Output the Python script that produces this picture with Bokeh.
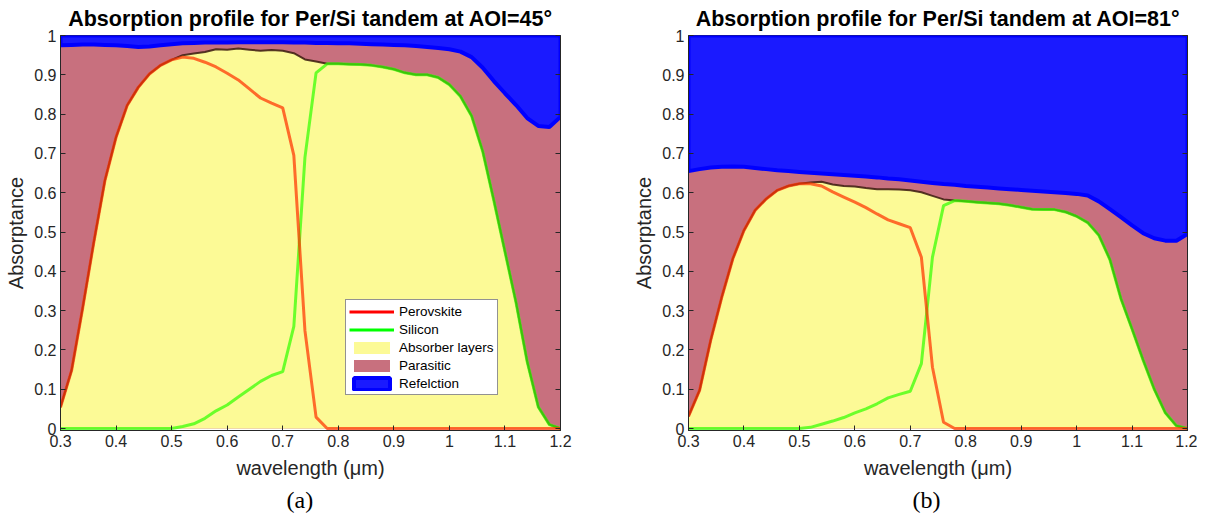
import numpy as np
from bokeh.plotting import figure
from bokeh.layouts import row
from bokeh.models import FixedTicker, LinearAxis, Legend, LegendItem, Title, Range1d
from bokeh.embed import file_html
from bokeh.resources import INLINE

# ---------------- data ----------------
wavelength = [0.30, 0.32, 0.34, 0.36, 0.38, 0.40, 0.42, 0.44, 0.46, 0.48,
              0.50, 0.52, 0.54, 0.56, 0.58, 0.60, 0.62, 0.64, 0.66, 0.68,
              0.70, 0.72, 0.74, 0.76, 0.78, 0.80, 0.82, 0.84, 0.86, 0.88,
              0.90, 0.92, 0.94, 0.96, 0.98, 1.00, 1.02, 1.04, 1.06, 1.08,
              1.10, 1.12, 1.14, 1.16, 1.18, 1.20]

# AOI = 45 deg
perovskite_45 = [0.054, 0.148, 0.307, 0.474, 0.631, 0.741, 0.822, 0.868, 0.902, 0.924,
                 0.938, 0.945, 0.942, 0.932, 0.920, 0.904, 0.887, 0.864, 0.841, 0.828,
                 0.816, 0.695, 0.249, 0.029, 0.0, 0.0, 0.0, 0.0, 0.0, 0.0,
                 0.0, 0.0, 0.0, 0.0, 0.0, 0.0, 0.0, 0.0, 0.0, 0.0,
                 0.0, 0.0, 0.0, 0.0, 0.0, 0.0]
silicon_45 = [0.0, 0.0, 0.0, 0.0, 0.0, 0.0, 0.0, 0.0, 0.0, 0.0,
              0.0, 0.005, 0.012, 0.026, 0.045, 0.060, 0.080, 0.100, 0.120, 0.135,
              0.145, 0.260, 0.690, 0.905, 0.928, 0.928, 0.927, 0.926, 0.924, 0.920,
              0.914, 0.905, 0.900, 0.900, 0.893, 0.875, 0.845, 0.795, 0.705, 0.580,
              0.450, 0.320, 0.170, 0.055, 0.010, 0.0]
# 1 - reflection (upper edge of the parasitic band)
not_reflected_45 = [0.975, 0.976, 0.977, 0.977, 0.976, 0.975, 0.973, 0.971, 0.972, 0.975,
                    0.978, 0.980, 0.981, 0.982, 0.982, 0.982, 0.983, 0.983, 0.983, 0.983,
                    0.983, 0.982, 0.982, 0.981, 0.981, 0.980, 0.980, 0.979, 0.978, 0.977,
                    0.976, 0.975, 0.973, 0.971, 0.968, 0.965, 0.959, 0.945, 0.918, 0.884,
                    0.853, 0.823, 0.790, 0.770, 0.767, 0.793]

# AOI = 81 deg
perovskite_81 = [0.031, 0.097, 0.224, 0.334, 0.432, 0.504, 0.555, 0.584, 0.606, 0.617,
                 0.623, 0.623, 0.617, 0.602, 0.589, 0.576, 0.562, 0.546, 0.531, 0.521,
                 0.511, 0.436, 0.156, 0.016, 0.0, 0.0, 0.0, 0.0, 0.0, 0.0,
                 0.0, 0.0, 0.0, 0.0, 0.0, 0.0, 0.0, 0.0, 0.0, 0.0,
                 0.0, 0.0, 0.0, 0.0, 0.0, 0.0]
silicon_81 = [0.0, 0.0, 0.0, 0.0, 0.0, 0.0, 0.0, 0.0, 0.0, 0.0,
              0.0, 0.003, 0.011, 0.019, 0.028, 0.040, 0.050, 0.063, 0.078, 0.087,
              0.095, 0.165, 0.436, 0.567, 0.580, 0.578, 0.576, 0.574, 0.572, 0.568,
              0.563, 0.558, 0.557, 0.557, 0.551, 0.540, 0.524, 0.492, 0.430, 0.330,
              0.253, 0.174, 0.100, 0.040, 0.007, 0.0]
not_reflected_81 = [0.655, 0.660, 0.664, 0.666, 0.667, 0.666, 0.663, 0.660, 0.657, 0.655,
                    0.653, 0.651, 0.649, 0.647, 0.645, 0.643, 0.641, 0.639, 0.636, 0.634,
                    0.631, 0.628, 0.625, 0.622, 0.620, 0.617, 0.615, 0.613, 0.611, 0.609,
                    0.607, 0.605, 0.603, 0.601, 0.599, 0.597, 0.593, 0.578, 0.558, 0.538,
                    0.517, 0.497, 0.484, 0.478, 0.478, 0.495]

x_ticks = [0.3, 0.4, 0.5, 0.6, 0.7, 0.8, 0.9, 1.0, 1.1, 1.2]
x_tick_labels = ["0.3", "0.4", "0.5", "0.6", "0.7", "0.8", "0.9", "1", "1.1", "1.2"]
y_ticks = [0.0, 0.1, 0.2, 0.3, 0.4, 0.5, 0.6, 0.7, 0.8, 0.9, 1.0]
y_tick_labels = ["0", "0.1", "0.2", "0.3", "0.4", "0.5", "0.6", "0.7", "0.8", "0.9", "1"]

legend_labels = ["Perovskite", "Silicon", "Absorber layers", "Parasitic", "Refelction"]

# ---------------- styling ----------------
YELLOW = "#FCFA96"
PINK = "#C8707E"
BLUE_FILL = "#1A1AFF"
BLUE_EDGE = "#0000FF"
AX = "#262626"
SANS = "Liberation Sans"


def panel(title, perov, si, notref, frame_w, b_left, b_right, caption, caption_offset, with_legend):
    wl = np.array(wavelength)
    P = np.array(perov)
    S = np.array(si)
    T = np.array(notref)
    A = P + S

    p = figure(frame_width=frame_w, frame_height=395,
               x_range=Range1d(0.3, 1.2), y_range=Range1d(-0.005, 1.0),
               output_backend="svg", toolbar_location=None,
               min_border_left=b_left, min_border_right=b_right,
               min_border_top=35, min_border_bottom=87,
               background_fill_color="white", border_fill_color="white")
    p.grid.visible = False
    p.outline_line_color = AX

    p.title.text = title
    p.title.text_font = SANS
    p.title.text_font_size = "21.5px"
    p.title.text_font_style = "bold"
    p.title.text_color = "black"
    p.title.align = "center"
    p.title.standoff = 9

    # areas
    pink = p.varea(x=wl, y1=np.zeros_like(T), y2=T, fill_color=PINK)
    yellow = p.varea(x=wl, y1=np.zeros_like(A), y2=A, fill_color=YELLOW)
    p.line(wl, A, line_color="#3a1a0e", line_width=2, line_alpha=0.85)
    xs = np.concatenate([wl, wl[::-1]])
    ys = np.concatenate([T, np.ones_like(T)])
    blue = p.patch(xs, ys, fill_color=BLUE_FILL, line_color=BLUE_EDGE, line_width=4)

    # absorber lines
    p.line(wl, S, line_color="#33FF00", line_width=3, line_alpha=0.72)
    p.line(wl, P, line_color="#FF3300", line_width=3, line_alpha=0.72)

    # axes
    xa = p.xaxis[0]
    xa.ticker = FixedTicker(ticks=x_ticks)
    xa.major_label_overrides = {t: l for t, l in zip(x_ticks, x_tick_labels)}
    xa.axis_label = "wavelength (μm)"
    ya = p.yaxis[0]
    ya.ticker = FixedTicker(ticks=y_ticks)
    ya.major_label_overrides = {t: l for t, l in zip(y_ticks, y_tick_labels)}
    ya.axis_label = "Absorptance"
    for ax in (xa, ya):
        ax.axis_line_color = AX
        ax.major_tick_line_color = AX
        ax.major_tick_in = 5
        ax.major_tick_out = 0
        ax.minor_tick_line_color = None
        ax.major_label_text_font = SANS
        ax.major_label_text_font_size = "16px"
        ax.major_label_text_color = AX
        ax.axis_label_text_font = SANS
        ax.axis_label_text_font_size = "20px"
        ax.axis_label_text_font_style = "normal"
        ax.axis_label_text_color = AX
        ax.major_label_standoff = 4
        ax.axis_label_standoff = 7
    ya.axis_label_standoff = 4

    ra = LinearAxis(ticker=FixedTicker(ticks=y_ticks),
                    major_label_overrides={t: "" for t in y_ticks},
                    major_tick_in=5, major_tick_out=0, minor_tick_line_color=None,
                    axis_line_color=AX, major_tick_line_color=AX, major_label_standoff=0)
    p.add_layout(ra, "right")

    cap = Title(text=caption, align="left", text_font="Liberation Serif",
                text_font_size="24px", text_font_style="normal", text_color="black",
                standoff=6, offset=caption_offset)
    p.add_layout(cap, "below")

    if with_legend:
        lp = p.line(x=[np.nan], y=[np.nan], line_color="#FF0000", line_width=3)
        ls = p.line(x=[np.nan], y=[np.nan], line_color="#00FF00", line_width=3)
        leg = Legend(items=[
            LegendItem(label=legend_labels[0], renderers=[lp]),
            LegendItem(label=legend_labels[1], renderers=[ls]),
            LegendItem(label=legend_labels[2], renderers=[yellow]),
            LegendItem(label=legend_labels[3], renderers=[pink]),
            LegendItem(label=legend_labels[4], renderers=[blue]),
        ], location=(285, 35))
        leg.glyph_width = 45
        leg.glyph_height = 15
        leg.label_text_font = SANS
        leg.label_text_font_size = "13.5px"
        leg.label_text_color = "black"
        leg.label_standoff = 5
        leg.label_height = 16
        leg.spacing = 2
        leg.padding = 3
        leg.margin = 0
        leg.border_line_color = AX
        leg.border_line_width = 1
        leg.background_fill_color = "white"
        leg.background_fill_alpha = 1
        p.add_layout(leg, "center")
    return p


p1 = panel("Absorption profile for Per/Si tandem at AOI=45°", perovskite_45, silicon_45,
           not_reflected_45, 500, 60, 48, "(a)", 226, True)
p2 = panel("Absorption profile for Per/Si tandem at AOI=81°", perovskite_81, silicon_81,
           not_reflected_81, 499, 80, 10, "(b)", 224, False)

layout = row(p1, p2)
open("out.html", "w").write(file_html(layout, INLINE))
